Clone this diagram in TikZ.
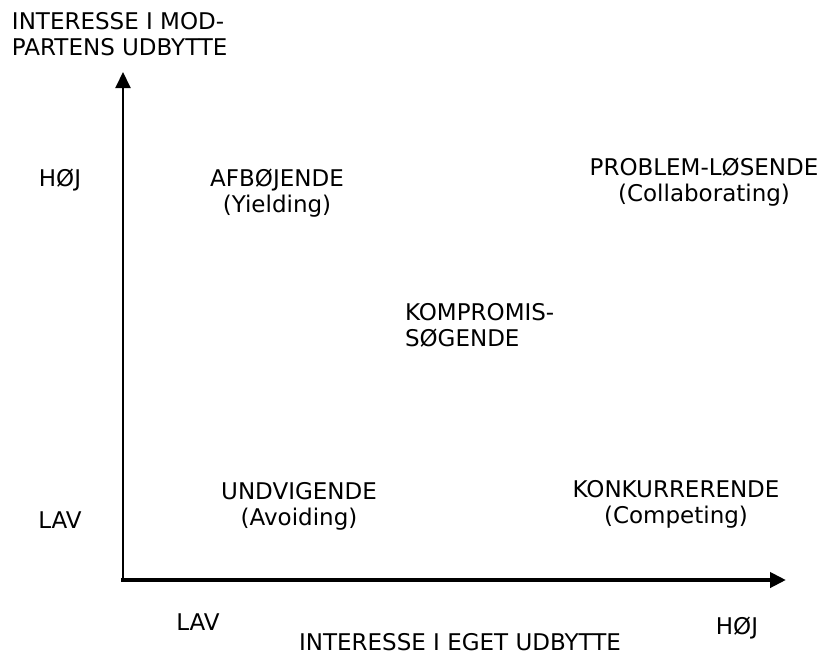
\documentclass[tikz,border=0pt]{standalone}
\usepackage{fontspec}
\setmainfont{DejaVu Sans}
\usetikzlibrary{arrows.meta}

\begin{document}
\begin{tikzpicture}[x=1pt, y=-1pt,
    lbl/.style={inner sep=0pt, outer sep=0pt, font=\fontsize{23}{26}\selectfont},
    axis/.style={-{Triangle[length=16pt, width=15pt]}}]
                \useasboundingbox (0,0) rectangle (824,656);
                % axes
                \coordinate (origin) at (123,580);
                \coordinate (ytip) at (123,72);
                \coordinate (xstart) at (121,580);
                \coordinate (xtip) at (786,580);
                \draw[axis, line width=2pt] (origin) -- (ytip);
                \draw[axis, line width=4pt] (xstart) -- (xtip);

                % axis titles and scale labels
                \node[lbl, anchor=north west, align=left] (ytitle) at (12,12) {INTERESSE I MOD-\\PARTENS UDBYTTE};
                \node[lbl, anchor=north] (xtitle) at (460,633) {INTERESSE I EGET UDBYTTE};
                \node[lbl, anchor=north] (yhigh) at (60,169) {HØJ};
                \node[lbl, anchor=north] (ylow) at (60,512) {LAV};
                \node[lbl, anchor=north] (xlow) at (198,614) {LAV};
                \node[lbl, anchor=north] (xhigh) at (737,617) {HØJ};

                % styles
                \node[lbl, anchor=north, align=center] (yielding) at (277,169) {AFBØJENDE\\(Yielding)};
                \node[lbl, anchor=north, align=center] (collab) at (704,158) {PROBLEM-LØSENDE\\(Collaborating)};
                \node[lbl, anchor=north west, align=left] (compromise) at (405,303) {KOMPROMIS-\\SØGENDE};
                \node[lbl, anchor=north, align=center] (avoiding) at (299,482) {UNDVIGENDE\\(Avoiding)};
                \node[lbl, anchor=north, align=center] (competing) at (676,480) {KONKURRERENDE\\(Competing)};
\end{tikzpicture}
\end{document}
